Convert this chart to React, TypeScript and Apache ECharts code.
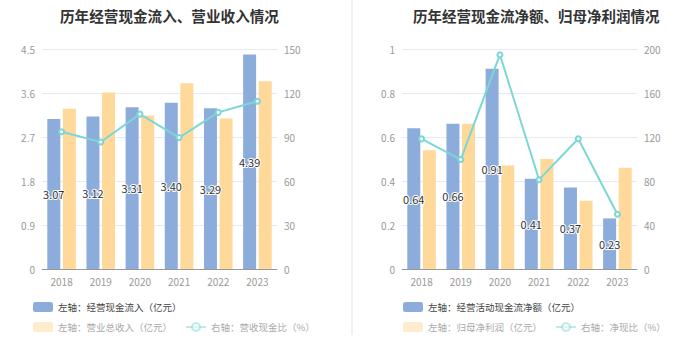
import React, { useEffect, useRef } from "react";
import * as echarts from "echarts";

const years = ["2018", "2019", "2020", "2021", "2022", "2023"];

// Left chart
const cashInflow = [3.07, 3.12, 3.31, 3.4, 3.29, 4.39];
const revenue = [3.28, 3.61, 3.14, 3.8, 3.08, 3.84];
const cashRevenueRatio = [93.6, 86.6, 105.6, 89.6, 106.8, 114.4];

// Right chart
const netCashFlow = [0.64, 0.66, 0.91, 0.41, 0.37, 0.23];
const netProfit = [0.54, 0.66, 0.47, 0.5, 0.31, 0.46];
const netCashRatio = [118.3, 99.5, 194.8, 81.2, 118.4, 49.8];

const leftTitle = "历年经营现金流入、营业收入情况";
const rightTitle = "历年经营现金流净额、归母净利润情况";
const leftNames = ["左轴：经营现金流入（亿元）", "左轴：营业总收入（亿元）", "右轴：营收现金比（%）"];
const rightNames = ["左轴：经营活动现金流净额（亿元）", "左轴：归母净利润（亿元）", "右轴：净现比（%）"];

const BLUE = "#8caddb";
const ORANGE = "#ffd99a";
const CYAN = "#7dd6d6";
const FONT = "'Noto Sans CJK SC', 'Noto Sans', sans-serif";

export default function App() {
  const ref = useRef<HTMLDivElement>(null);
  useEffect(() => {
    if (!ref.current) return;
    const chart = echarts.init(ref.current, null, { renderer: "svg" });

    const mkGrid = (left: number, right: number) => ({
      left,
      right,
      top: 49,
      bottom: 91,
      containLabel: false,
    });
    const axisLabel = { color: "#999", fontSize: 10, fontFamily: FONT };
    const mkX = (gi: number) => ({
      type: "category",
      gridIndex: gi,
      data: years,
      axisLine: { lineStyle: { color: "#999" } },
      axisTick: { show: false },
      axisLabel: { ...axisLabel, margin: 7 },
    });
    const mkY = (gi: number, max: number, interval: number, pos: string, split: boolean) => ({
      type: "value",
      gridIndex: gi,
      min: 0,
      max,
      interval,
      position: pos,
      axisLine: { show: false },
      axisTick: { show: false },
      axisLabel: { ...axisLabel, margin: 7 },
      splitLine: { show: split, lineStyle: { color: "#e6eaf4" } },
    });
    const barLabel = {
      show: true,
      position: "inside",
      color: "#333",
      fontSize: 11,
      fontFamily: FONT,
      textBorderColor: "#fff",
      textBorderWidth: 2,
      formatter: (p: any) => Number(p.value).toFixed(2),
    };
    const mkSeries = (
      names: string[],
      a: number[],
      b: number[],
      c: number[],
      xi: number,
      yl: number,
      yr: number
    ) => [
      {
        name: names[0],
        type: "bar",
        xAxisIndex: xi,
        yAxisIndex: yl,
        data: a,
        barWidth: 13,
        barGap: "20%",
        itemStyle: { color: BLUE },
        label: barLabel,
      },
      {
        name: names[1],
        type: "bar",
        xAxisIndex: xi,
        yAxisIndex: yl,
        data: b,
        barWidth: 13,
        barGap: "20%",
        itemStyle: { color: ORANGE },
      },
      {
        name: names[2],
        type: "line",
        xAxisIndex: xi,
        yAxisIndex: yr,
        data: c,
        symbol: "emptyCircle",
        symbolSize: 5,
        itemStyle: { color: CYAN },
        lineStyle: { color: CYAN, width: 2 },
      },
    ];
    const legendText = { fontSize: 9.5, fontFamily: FONT };
    const mkLegends = (names: string[], left: number) => [
      {
        left,
        top: 297,
        itemWidth: 20,
        itemHeight: 10,
        itemGap: 13,
        textStyle: { ...legendText, color: "#444" },
        data: [{ name: names[0], itemStyle: { borderRadius: 3 } }],
      },
      {
        left,
        top: 317,
        itemWidth: 20,
        itemHeight: 10,
        itemGap: 13,
        textStyle: { ...legendText, color: "#aaa" },
        data: [
          { name: names[1], itemStyle: { opacity: 0.5, borderRadius: 3 } },
          { name: names[2], itemStyle: { opacity: 0.5 }, lineStyle: { opacity: 0.5 } },
        ],
      },
    ];

    chart.setOption({
      animation: false,
      textStyle: { fontFamily: FONT },
      title: [
        {
          text: leftTitle,
          left: 55,
          top: 3,
          textStyle: { fontSize: 14.6, fontWeight: "bold", color: "#333", fontFamily: FONT },
        },
        {
          text: rightTitle,
          left: 408,
          top: 3,
          textStyle: { fontSize: 14.5, fontWeight: "bold", color: "#333", fontFamily: FONT },
        },
      ],
      legend: [...mkLegends(leftNames, 28), ...mkLegends(rightNames, 398)],
      grid: [mkGrid(42, 423), mkGrid(402, 63)],
      xAxis: [mkX(0), mkX(1)],
      yAxis: [
        mkY(0, 4.5, 0.9, "left", true),
        mkY(0, 150, 30, "right", false),
        mkY(1, 1, 0.2, "left", true),
        mkY(1, 200, 40, "right", false),
      ],
      series: [
        ...mkSeries(leftNames, cashInflow, revenue, cashRevenueRatio, 0, 0, 1),
        ...mkSeries(rightNames, netCashFlow, netProfit, netCashRatio, 1, 2, 3),
      ],
      graphic: [
        {
          type: "line",
          shape: { x1: 352, y1: 0, x2: 352, y2: 335 },
          style: { stroke: "#f0f0f0", lineWidth: 2 },
        },
      ],
    });
    return () => chart.dispose();
  }, []);
  return (
    <div
      ref={ref}
      style={{ position: "absolute", left: 0, top: 0, width: 700, height: 360, background: "#fff" }}
    />
  );
}
